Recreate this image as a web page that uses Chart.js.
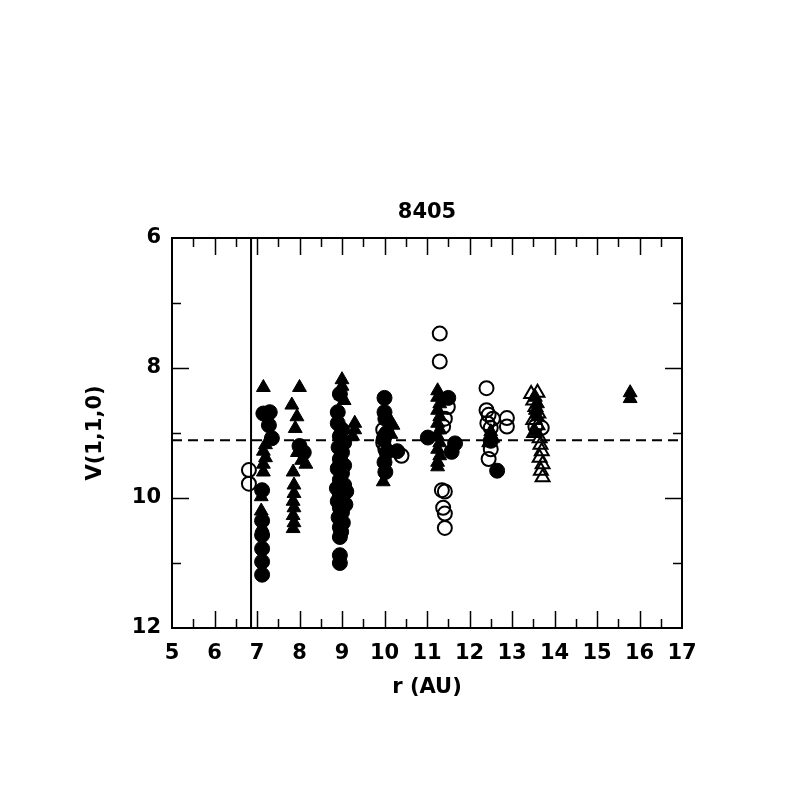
<!DOCTYPE html>
<html>
<head>
<meta charset="utf-8">
<script src="https://cdn.jsdelivr.net/npm/chart.js@4.4.1/dist/chart.umd.min.js"></script>
<style>
  html, body { margin: 0; padding: 0; background: #fff; }
  #wrap { width: 797px; height: 797px; }
</style>
</head>
<body>
<div id="wrap"><canvas id="myChart" width="797" height="797"></canvas></div>
<script>
// r (AU) and V(1,1,0), one pair of arrays per marker type
const openCircR = [6.81, 6.81, 9.97, 10.0, 9.97, 10.02, 10.4,
    11.3, 11.3, 11.49, 11.42, 11.38, 11.35, 11.42, 11.38, 11.42, 11.42,
    12.4, 12.4, 12.45, 12.55, 12.42, 12.5, 12.88, 12.88, 12.5, 12.45,
    13.55, 13.7];
const openCircV = [9.57, 9.78, 8.95, 9.05, 9.15, 9.25, 9.35,
    7.47, 7.9, 8.6, 8.78, 8.9, 9.88, 9.9, 10.15, 10.24, 10.46,
    8.31, 8.65, 8.72, 8.78, 8.85, 8.92, 8.77, 8.9, 9.25, 9.4,
    8.9, 8.92];

const filledCircR = [7.15, 7.3, 7.28, 7.35, 7.12, 7.12, 7.12, 7.12, 7.12, 7.12,
    8.0, 8.1,
    8.95, 8.9, 8.9, 9.0, 8.95, 9.05, 8.92, 9.0, 8.95, 9.05, 8.9, 9.0, 8.95, 9.05,
    8.88, 9.1, 8.95, 9.0, 8.9, 9.08, 8.95, 9.0, 8.92, 9.02, 8.95, 8.98, 8.95, 8.95, 8.95,
    10.0, 10.0, 10.02, 10.05, 9.98, 10.05, 10.0, 10.02, 10.3,
    11.5, 11.02, 11.66, 11.58,
    12.5, 12.65];
const filledCircV = [8.7, 8.68, 8.88, 9.08, 9.88, 10.35, 10.57, 10.78, 10.98, 11.18,
    9.2, 9.3,
    8.4, 8.68, 8.85, 8.95, 9.05, 9.15, 9.22, 9.3, 9.4, 9.5, 9.55, 9.62, 9.72, 9.8,
    9.85, 9.9, 9.95, 10.0, 10.05, 10.1, 10.15, 10.22, 10.3, 10.38, 10.45, 10.52, 10.6, 10.88, 11.0,
    8.46, 8.68, 8.78, 9.0, 9.1, 9.3, 9.45, 9.6, 9.28,
    8.46, 9.07, 9.16, 9.29,
    9.12, 9.58];

const filledTriR = [7.15, 7.2, 7.15, 7.2, 7.15, 7.15, 7.1, 7.1, 7.12, 7.12,
    8.0, 7.82, 7.94, 7.9, 7.95, 8.05, 8.15, 7.85, 7.87, 7.87, 7.85, 7.87, 7.85, 7.87, 7.85,
    9.0, 9.0, 8.98, 9.05, 9.3, 9.3, 9.25, 8.9,
    10.2, 10.15, 9.97,
    11.25, 11.25, 11.3, 11.25, 11.3, 11.25, 11.3, 11.25, 11.3, 11.25, 11.3, 11.25, 11.25,
    12.5, 12.55, 12.45,
    13.55, 13.6, 13.55, 13.6, 13.55,
    15.78, 15.78];
const filledTriV = [8.3, 9.18, 9.28, 9.38, 9.48, 9.6, 9.98, 10.2, 10.3, 10.45,
    8.3, 8.57, 8.75, 8.93, 9.3, 9.42, 9.48, 9.6, 9.8, 9.93, 10.05, 10.15, 10.27, 10.38, 10.47,
    8.18, 8.28, 8.42, 8.5, 8.85, 8.95, 9.05, 9.45,
    8.88, 9.02, 9.75,
    8.35, 8.45, 8.55, 8.65, 8.75, 8.85, 8.95, 9.05, 9.15, 9.25, 9.35, 9.45, 9.52,
    8.98, 9.08, 9.15,
    8.45, 8.55, 8.65, 8.75, 8.98,
    8.38, 8.47];

const openTriR = [13.45, 13.6, 13.5, 13.55, 13.62, 13.5, 13.6, 13.52, 13.65, 13.67,
    13.7, 13.65, 13.72, 13.68, 13.72];
const openTriV = [8.4, 8.38, 8.5, 8.6, 8.7, 8.8, 8.88, 9.0, 9.08, 9.18,
    9.28, 9.38, 9.48, 9.58, 9.68];

const edgeR = 6.86;      // vertical line
const meanV = 9.11;      // dashed line
const xTicks = [5, 6, 7, 8, 9, 10, 11, 12, 13, 14, 15, 16, 17];
const yTicks = [6, 8, 10, 12];

function pairs(xs, ys) {
    return xs.map((x, i) => ({ x: x, y: ys[i] }));
}

const FONT = '"DejaVu Sans", sans-serif';

// frame, inward ticks on all four sides, titles
const framePlugin = {
    id: 'frame',
    afterDraw(chart) {
        const { ctx, chartArea: a, scales: { x, y } } = chart;
        ctx.save();
        ctx.strokeStyle = '#000';
        ctx.lineWidth = 2;
        ctx.strokeRect(a.left, a.top, a.right - a.left, a.bottom - a.top);

        ctx.lineWidth = 1.5;
        ctx.beginPath();
        for (let v = 5.5; v < 17; v += 0.5) {
            const px = Math.round(x.getPixelForValue(v)) + 0.5;
            const len = Number.isInteger(v) ? 17 : 9;
            ctx.moveTo(px, a.bottom); ctx.lineTo(px, a.bottom - len);
            ctx.moveTo(px, a.top); ctx.lineTo(px, a.top + len);
        }
        for (let v = 7; v < 12; v += 1) {
            const py = Math.round(y.getPixelForValue(v)) + 0.5;
            const len = v % 2 === 0 ? 17 : 9;
            ctx.moveTo(a.left, py); ctx.lineTo(a.left + len, py);
            ctx.moveTo(a.right, py); ctx.lineTo(a.right - len, py);
        }
        ctx.stroke();

        ctx.fillStyle = '#000';
        ctx.textAlign = 'center';
        ctx.textBaseline = 'middle';
        ctx.font = 'bold 21px ' + FONT;
        ctx.fillText('8405', (a.left + a.right) / 2, 213);
        ctx.fillText('r (AU)', (a.left + a.right) / 2, 688);
        ctx.translate(96, (a.top + a.bottom) / 2);
        ctx.rotate(-Math.PI / 2);
        ctx.fillText('V(1,1,0)', 0, 0);
        ctx.restore();
    }
};

const ctx = document.getElementById('myChart').getContext('2d');

const myChart = new Chart(ctx, {
    type: 'scatter',
    data: {
        datasets: [
            {
                data: pairs(filledCircR, filledCircV),
                pointStyle: 'circle', pointRadius: 7.5,
                backgroundColor: '#000', borderColor: '#000', borderWidth: 1,
                order: 1
            },
            {
                data: pairs(filledTriR, filledTriV),
                pointStyle: 'triangle', pointRadius: 8,
                backgroundColor: '#000', borderColor: '#000', borderWidth: 1,
                order: 2
            },
            {
                data: pairs(openCircR, openCircV),
                pointStyle: 'circle', pointRadius: 7,
                backgroundColor: 'rgba(0,0,0,0)', borderColor: '#000', borderWidth: 2,
                order: 3
            },
            {
                data: pairs(openTriR, openTriV),
                pointStyle: 'triangle', pointRadius: 8,
                backgroundColor: 'rgba(0,0,0,0)', borderColor: '#000', borderWidth: 2,
                order: 4
            },
            {
                data: [{ x: 5, y: meanV }, { x: 17, y: meanV }],
                showLine: true, pointRadius: 0,
                borderColor: '#000', borderWidth: 2, borderDash: [10, 6],
                order: 10
            },
            {
                data: [{ x: edgeR, y: 6 }, { x: edgeR, y: 12 }],
                showLine: true, pointRadius: 0,
                borderColor: '#000', borderWidth: 2,
                order: 11
            }
        ]
    },
    options: {
        responsive: false,
        animation: false,
        layout: { padding: { left: 0, top: 238, right: 115, bottom: 0 } },
        plugins: {
            legend: { display: false },
            tooltip: { enabled: false }
        },
        scales: {
            x: {
                type: 'linear', min: 5, max: 17,
                afterFit(scale) { scale.height = 169; },
                afterBuildTicks(scale) { scale.ticks = xTicks.map(v => ({ value: v })); },
                grid: { display: false, drawTicks: false },
                border: { display: false },
                ticks: { color: '#000', padding: 13, maxRotation: 0, autoSkip: false,
                         font: { family: FONT, size: 21, weight: 'bold' } }
            },
            y: {
                type: 'linear', min: 6, max: 12, reverse: true,
                afterFit(scale) { scale.width = 172; },
                afterBuildTicks(scale) { scale.ticks = yTicks.map(v => ({ value: v })); },
                grid: { display: false, drawTicks: false },
                border: { display: false },
                ticks: { color: '#000', padding: 11, font: { family: FONT, size: 21, weight: 'bold' } }
            }
        }
    },
    plugins: [framePlugin]
});
</script>
</body>
</html>
